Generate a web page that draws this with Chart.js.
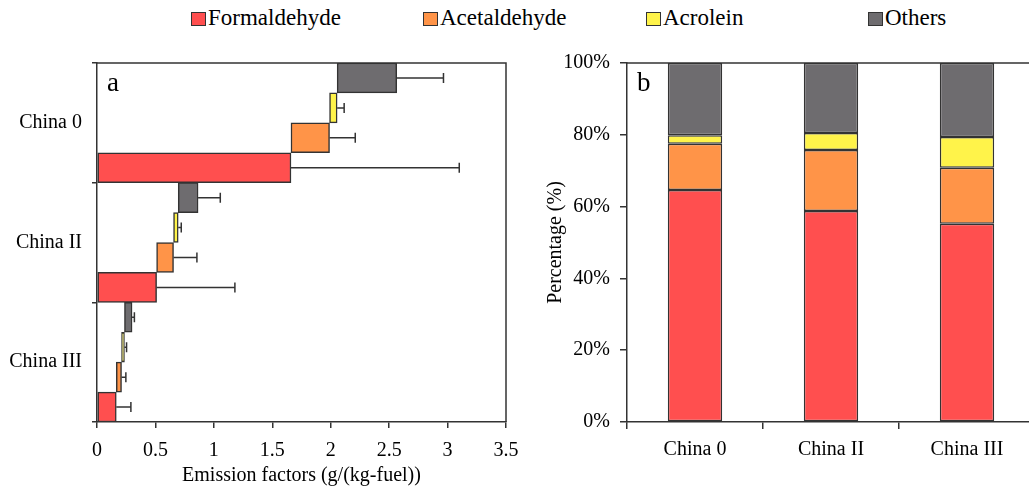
<!DOCTYPE html>
<html>
<head>
<meta charset="utf-8">
<script src="https://cdn.jsdelivr.net/npm/chart.js@4"></script>
<style>
  html, body { margin: 0; padding: 0; background: #fff; overflow: hidden; width: 1029px; height: 492px; }
  #wrap { position: relative; width: 1029px; height: 492px; overflow: hidden; }
  #chartA { position: absolute; left: 0; top: 0; }
  #chartB { position: absolute; left: 520px; top: 0; }
  .leg { position: absolute; top: 5px; font-family: "Liberation Serif", serif; font-size: 23px; color: #000; white-space: nowrap; line-height: 26px; }
  .leg i { display: inline-block; width: 13px; height: 12px; border: 1.5px solid #333; margin-right: 2px; vertical-align: -1px; }
</style>
</head>
<body>
<div id="wrap">
  <div id="legend"></div>
  <canvas id="chartA" width="520" height="492"></canvas>
  <canvas id="chartB" width="520" height="492"></canvas>
</div>
<script>
// categories & series
const categories = ['China 0', 'China II', 'China III'];
const species = ['Formaldehyde', 'Acetaldehyde', 'Acrolein', 'Others'];
const colors = ['#FF4F4F', '#FF9448', '#FFF34A', '#6E6C6F'];

// panel a: emission factors g/(kg-fuel) and standard deviations
const formaldehydeEF = [1.66, 0.51, 0.165];
const acetaldehydeEF = [0.33, 0.145, 0.045];
const acroleinEF = [0.065, 0.04, 0.025];
const othersEF = [0.51, 0.17, 0.065];
const formaldehydeErr = [1.44, 0.67, 0.125];
const acetaldehydeErr = [0.22, 0.20, 0.037];
const acroleinErr = [0.06, 0.026, 0.018];
const othersErr = [0.40, 0.19, 0.02];

// panel b: percentage shares
const formaldehydePct = [64.6, 58.8, 55.2];
const acetaldehydePct = [12.9, 17.0, 15.6];
const acroleinPct = [2.4, 4.7, 8.6];
const othersPct = [20.1, 19.5, 20.6];

const xTicksA = [0, 0.5, 1, 1.5, 2, 2.5, 3, 3.5];
const yTicksB = [0, 20, 40, 60, 80, 100];

const FONT = 'Liberation Serif';
const AXIS = '#333';

// legend (shared by both panels)
const legendX = [191, 423, 646, 868];
const legend = document.getElementById('legend');
species.forEach((name, i) => {
    const s = document.createElement('span');
    s.className = 'leg';
    s.style.left = legendX[i] + 'px';
    s.innerHTML = '<i style="background:' + colors[i] + '"></i>' + name;
    legend.appendChild(s);
});

// build floating bars: each species starts where the previous one ends
const efSeries = [formaldehydeEF, acetaldehydeEF, acroleinEF, othersEF];
const errSeries = [formaldehydeErr, acetaldehydeErr, acroleinErr, othersErr];
const floating = efSeries.map((vals, s) => vals.map((v, c) => {
    let start = 0;
    for (let k = 0; k < s; k++) start += efSeries[k][c];
    return [start, start + v];
}));

// draw order top -> bottom inside a group: Others, Acrolein, Acetaldehyde, Formaldehyde
const orderA = [3, 2, 1, 0];
const datasetsA = orderA.map(s => ({
    label: species[s],
    data: floating[s],
    errors: errSeries[s],
    backgroundColor: colors[s],
    borderColor: AXIS,
    borderWidth: 1.5,
    borderSkipped: false,
    categoryPercentage: 1,
    barPercentage: 1
}));

const errorBars = {
    id: 'errorBars',
    afterDatasetsDraw(chart) {
        const ctx = chart.ctx;
        const xs = chart.scales.x;
        ctx.save();
        ctx.strokeStyle = AXIS;
        ctx.lineWidth = 1.5;
        chart.data.datasets.forEach((ds, i) => {
            const meta = chart.getDatasetMeta(i);
            meta.data.forEach((bar, j) => {
                const end = ds.data[j][1];
                const xe = xs.getPixelForValue(end + ds.errors[j]);
                ctx.beginPath();
                ctx.moveTo(bar.x, bar.y);
                ctx.lineTo(xe, bar.y);
                ctx.moveTo(xe, bar.y - 5);
                ctx.lineTo(xe, bar.y + 5);
                ctx.stroke();
            });
        });
        ctx.restore();
    }
};

const frame = {
    id: 'frame',
    afterDraw(chart, args, opts) {
        const { ctx, chartArea: a } = chart;
        ctx.save();
        ctx.strokeStyle = AXIS;
        ctx.lineWidth = 1.5;
        ctx.beginPath();
        ctx.moveTo(a.left, a.top);
        ctx.lineTo(a.right, a.top);
        ctx.lineTo(a.right, a.bottom);
        ctx.stroke();
        ctx.fillStyle = '#000';
        ctx.font = '27px "' + FONT + '"';
        ctx.textBaseline = 'top';
        ctx.fillText(opts.letter, a.left + 10, a.top + 7);
        ctx.restore();
    }
};

const tickFont = { family: FONT, size: 20 };

new Chart(document.getElementById('chartA'), {
    type: 'bar',
    data: { labels: categories, datasets: datasetsA },
    plugins: [errorBars, frame],
    options: {
        indexAxis: 'y',
        responsive: false,
        animation: false,
        layout: { padding: { top: 63, right: 14, left: 0, bottom: 0 } },
        plugins: {
            legend: { display: false },
            tooltip: { enabled: false },
            frame: { letter: 'a' }
        },
        scales: {
            x: {
                min: 0,
                max: 3.5,
                afterBuildTicks: s => { s.ticks = xTicksA.map(v => ({ value: v })); },
                ticks: { color: '#000', font: tickFont, padding: 11, maxRotation: 0, callback: v => String(v) },
                grid: { drawOnChartArea: false, tickLength: 6, color: AXIS, lineWidth: 1.5 },
                border: { color: AXIS, width: 1.5 },
                title: { display: true, text: 'Emission factors (g/(kg-fuel))', color: '#000', font: tickFont, padding: { top: 4 } },
                afterFit: s => { s.height = 70; s.paddingRight = 0; s.paddingLeft = 0; }
            },
            y: {
                ticks: { color: '#000', font: tickFont, padding: 10 },
                grid: { offset: true, drawOnChartArea: false, tickLength: 5, color: AXIS, lineWidth: 1.5 },
                border: { color: AXIS, width: 1.5 },
                afterFit: s => { s.width = 97; }
            }
        }
    }
});

const pctSeries = [formaldehydePct, acetaldehydePct, acroleinPct, othersPct];
const datasetsB = pctSeries.map((vals, s) => ({
    label: species[s],
    data: vals,
    backgroundColor: colors[s],
    borderColor: AXIS,
    borderWidth: 1.5,
    borderSkipped: false,
    categoryPercentage: 1,
    barPercentage: 0.4
}));

new Chart(document.getElementById('chartB'), {
    type: 'bar',
    data: { labels: categories, datasets: datasetsB },
    plugins: [frame],
    options: {
        responsive: false,
        animation: false,
        layout: { padding: { top: 63, right: 5, left: 20, bottom: 0 } },
        plugins: {
            legend: { display: false },
            tooltip: { enabled: false },
            frame: { letter: 'b' }
        },
        scales: {
            x: {
                stacked: true,
                ticks: { color: '#000', font: tickFont, padding: 9, maxRotation: 0 },
                grid: { offset: true, drawOnChartArea: false, tickLength: 7, color: AXIS, lineWidth: 1.5 },
                border: { color: AXIS, width: 1.5 },
                afterFit: s => { s.height = 70; }
            },
            y: {
                stacked: true,
                min: 0,
                max: 100,
                afterBuildTicks: s => { s.ticks = yTicksB.map(v => ({ value: v })); },
                ticks: { color: '#000', font: tickFont, padding: 10, callback: v => v + '%' },
                grid: { drawOnChartArea: false, tickLength: 7, color: AXIS, lineWidth: 1.5 },
                border: { color: AXIS, width: 1.5 },
                title: { display: true, text: 'Percentage (%)', color: '#000', font: tickFont, padding: { bottom: 0 } },
                afterFit: s => { s.width = 87; }
            }
        }
    }
});
</script>
</body>
</html>
